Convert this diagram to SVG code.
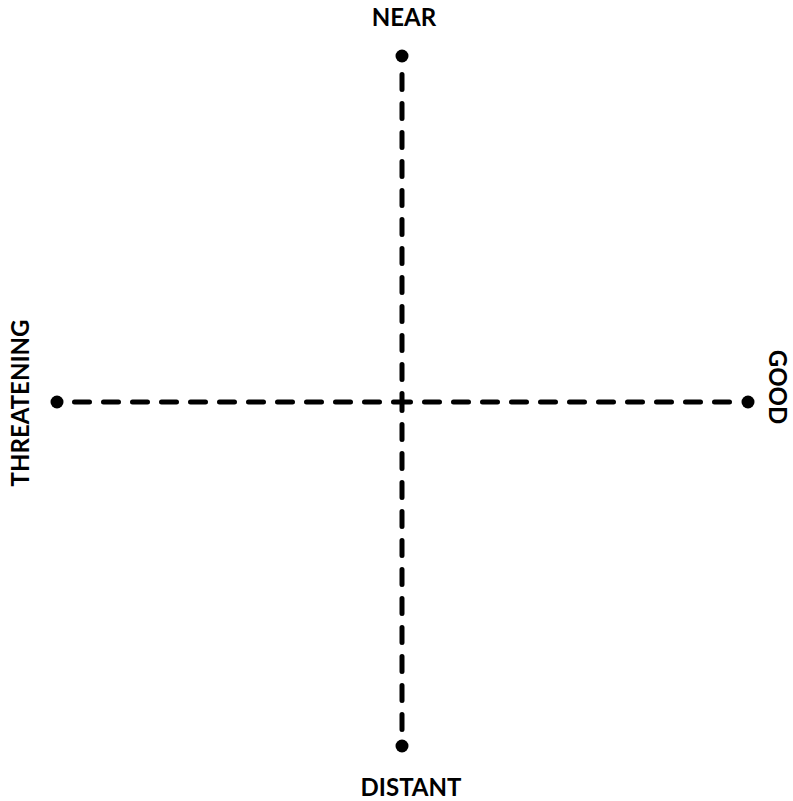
<svg xmlns="http://www.w3.org/2000/svg" width="793" height="801" viewBox="0 0 793 801">
<style>
.ax{stroke:#000;stroke-width:5;stroke-linecap:round;stroke-dasharray:15 14;fill:none}
.dot{fill:#000}
.lbl{font-family:Lato,"Open Sans","Liberation Sans",sans-serif;font-weight:bold;font-size:24px;fill:#000;text-anchor:middle}
</style>
<rect width="793" height="801" fill="#fff"/>
<g id="connectors">
<line class="ax" x1="402" y1="74.5" x2="402" y2="402"/>
<line class="ax" x1="402" y1="729.5" x2="402" y2="402"/>
<line class="ax" x1="74.5" y1="402" x2="402" y2="402"/>
<line class="ax" x1="729.5" y1="402" x2="402" y2="402"/>
</g>
<g id="near"><circle class="dot" cx="402" cy="56" r="6.5"/><text class="lbl" x="404" y="26">NEAR</text></g>
<g id="distant"><circle class="dot" cx="402" cy="746" r="6.5"/><text class="lbl" x="411" y="796">DISTANT</text></g>
<g id="threatening"><circle class="dot" cx="57" cy="402" r="6.5"/><text class="lbl" transform="translate(29,403) rotate(-90)">THREATENING</text></g>
<g id="good"><circle class="dot" cx="748" cy="402" r="6.5"/><text class="lbl" transform="translate(769,387) rotate(90)">GOOD</text></g>
</svg>
